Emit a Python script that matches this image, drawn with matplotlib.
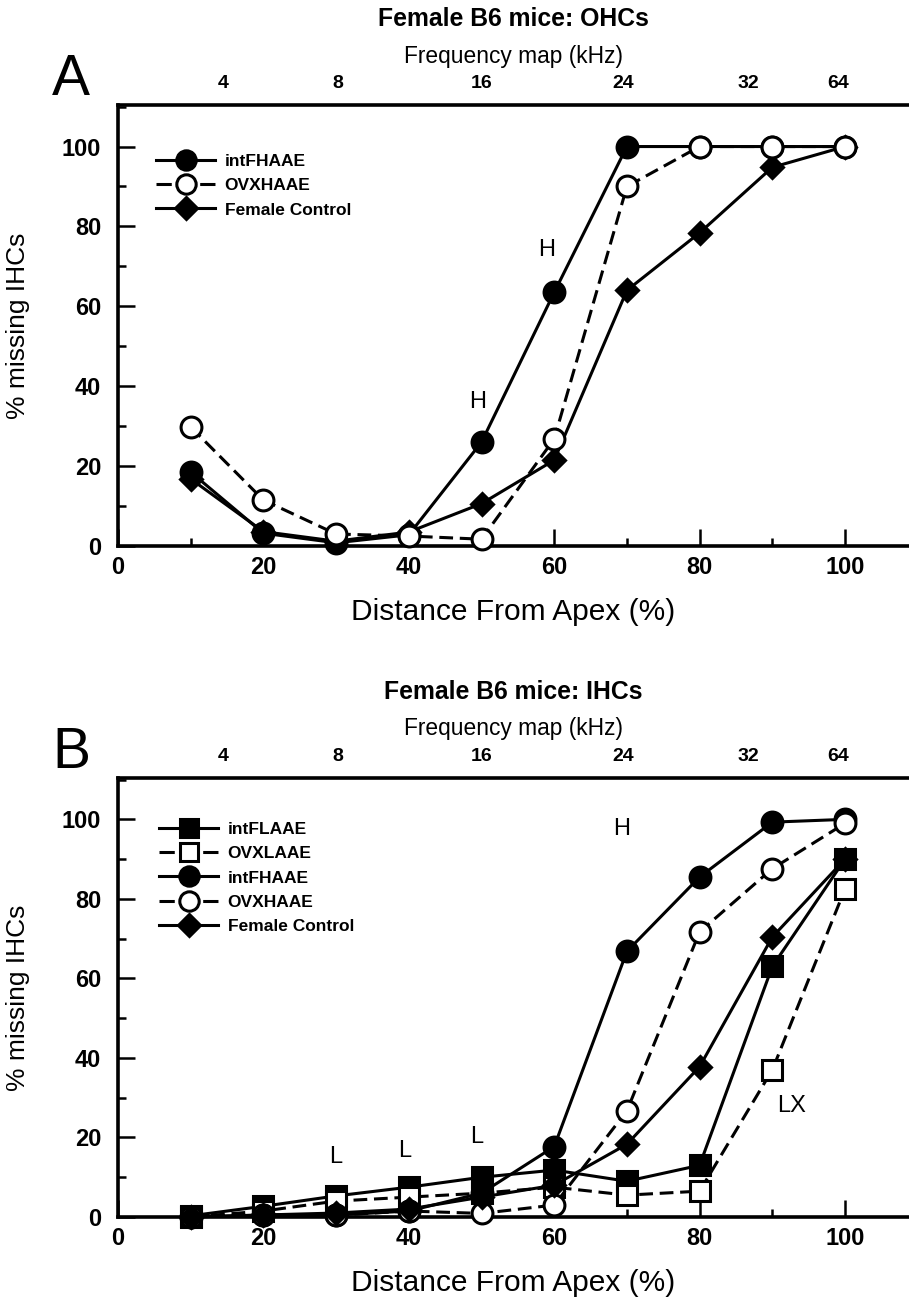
import matplotlib
matplotlib.use("Agg")
import matplotlib.pyplot as plt
from matplotlib.ticker import MultipleLocator
from matplotlib.lines import Line2D

plt.rcParams['font.family'] = ['Liberation Sans', 'DejaVu Sans']

# ---------------- data ----------------
distance = [10, 20, 30, 40, 50, 60, 70, 80, 90, 100]

# Panel A (OHCs)
A_intFHAAE = [18.5, 3.2, 0.8, 2.8, 26.0, 63.5, 100, 100, 100, 100]
A_OVXHAAE = [29.8, 11.5, 3.0, 2.5, 1.7, 26.8, 90.0, 100, 100, 100]
A_control = [16.8, 3.6, 1.2, 3.5, 10.6, 21.5, 64.0, 78.4, 94.8, 100]

# Panel B (IHCs)
B_intFLAAE = [0.3, 2.7, 5.3, 7.5, 10.0, 11.8, 9.0, 13.0, 63.0, 90.0]
B_OVXLAAE = [0.0, 1.5, 4.0, 5.0, 6.0, 7.5, 5.5, 6.5, 37.0, 82.5]
B_intFHAAE = [0.0, 0.5, 0.5, 1.5, 6.0, 17.7, 66.8, 85.5, 99.3, 100]
B_OVXHAAE = [0.0, 0.5, 0.5, 1.5, 0.9, 3.0, 26.7, 71.7, 87.6, 99.0]
B_control = [0.0, 0.5, 1.0, 2.0, 5.0, 8.0, 18.3, 37.8, 70.4, 90.0]

freq_labels = ['4', '8', '16', '24', '32', '64']
freq_pos = [14.4, 30.3, 50.0, 69.5, 86.7, 99.0]

x_ticklabels = [0, 20, 40, 60, 80, 100]
y_ticklabels = [0, 20, 40, 60, 80, 100]

A_notes = [('H', 49.5, 36.0), ('H', 59.0, 74.0)]
B_notes = [('H', 69.3, 97.5), ('L', 30.0, 15.0), ('L', 39.5, 16.5),
           ('L', 49.4, 20.0), ('LX', 92.6, 28.0)]

# ---------------- figure ----------------
W, H = 909, 1298
fig = plt.figure(figsize=(W / 100, H / 100), dpi=100)


def fx(px):
    return px / W


def fy(py):
    return 1 - py / H


LW = 2.2
MS_C = 15.0
MS_S = 14.5
MS_D = 11.5
dash = (0, (4.5, 2.2))
legend_dash = (0, (5.0, 9.3))

styles = {
    'intFLAAE': dict(marker='s', ms=MS_S, mfc='black', mec='black', ls='-'),
    'OVXLAAE': dict(marker='s', ms=MS_S, mfc='white', mec='black', ls=dash),
    'intFHAAE': dict(marker='o', ms=MS_C, mfc='black', mec='black', ls='-'),
    'OVXHAAE': dict(marker='o', ms=MS_C, mfc='white', mec='black', ls=dash),
    'Female Control': dict(marker='D', ms=MS_D, mfc='black', mec='black', ls='-'),
}


def setup_axes(ax, top_px, bottom_px, title, letter, notes):
    ax.set_xlim(0, 108.8)
    ax.set_ylim(0, 110.4)
    for s in ['left', 'bottom', 'top']:
        ax.spines[s].set_linewidth(2.6)
    ax.spines['right'].set_visible(False)
    ax.xaxis.set_minor_locator(MultipleLocator(10))
    ax.yaxis.set_minor_locator(MultipleLocator(10))
    ax.set_xticks(x_ticklabels)
    ax.set_yticks(y_ticklabels)
    ax.tick_params(which='major', direction='in', length=12, width=1.8,
                   labelsize=17, top=False, right=False)
    ax.tick_params(which='minor', direction='in', length=6, width=1.8,
                   top=False, right=False)
    ax.tick_params(axis='x', which='major', pad=7)
    ax.tick_params(axis='y', which='major', pad=12)
    for lab in ax.get_xticklabels() + ax.get_yticklabels():
        lab.set_fontweight('bold')
    ax.set_xlabel('Distance From Apex (%)', fontsize=21.5, labelpad=14)
    ax.set_ylabel('% missing IHCs', fontsize=19)
    ax.yaxis.set_label_coords(fx(30 - 118) / (791 / W), 0.5)

    sec = ax.secondary_xaxis('top')
    sec.set_xticks(freq_pos, labels=freq_labels)
    sec.tick_params(length=0, labelsize=14, pad=9)
    for lab in sec.get_xticklabels():
        lab.set_fontweight('bold')
    sec.spines['top'].set_visible(False)

    fig.text(fx(513), fy(top_px - 86), title, ha='center', va='center',
             fontsize=17.8, fontweight='bold')
    fig.text(fx(513), fy(top_px - 49), 'Frequency map (kHz)', ha='center',
             va='center', fontsize=16.4)
    fig.text(fx(71), fy(top_px - 25), letter, ha='center', va='center',
             fontsize=41)
    for t, x, y in notes:
        ax.text(x, y, t, ha='center', va='center', fontsize=17)


def plot_series(ax, name, vals, z):
    st = styles[name]
    ax.plot(distance, vals, linestyle=st['ls'], color='black', lw=LW,
            marker=st['marker'], ms=st['ms'], mfc=st['mfc'], mec=st['mec'],
            mew=2.2, label=name, clip_on=False, zorder=z)


def legend_handle(name):
    st = styles[name]
    ls = legend_dash if st['ls'] != '-' else '-'
    return Line2D([], [], linestyle=ls, color='black', lw=LW,
                  marker=st['marker'], ms=st['ms'] * 0.93, mfc=st['mfc'],
                  mec=st['mec'], mew=2.2)


leg_kw = dict(frameon=False, handlelength=3.4, handletextpad=0.55,
              labelspacing=0.52, borderpad=0, borderaxespad=0,
              numpoints=1, prop={'weight': 'bold', 'size': 12.5})

# Panel A
axA = fig.add_axes([fx(118), fy(546), 791 / W, (546 - 105) / H])
setup_axes(axA, 105, 546, 'Female B6 mice: OHCs', 'A', A_notes)
plot_series(axA, 'Female Control', A_control, 3)
plot_series(axA, 'intFHAAE', A_intFHAAE, 4)
plot_series(axA, 'OVXHAAE', A_OVXHAAE, 5)
order_A = ['intFHAAE', 'OVXHAAE', 'Female Control']
axA.legend([legend_handle(n) for n in order_A], order_A, loc='upper left',
           bbox_to_anchor=(fx(156), fy(154)), bbox_transform=fig.transFigure,
           **leg_kw)

# Panel B
axB = fig.add_axes([fx(118), fy(1217), 791 / W, (1217 - 778) / H])
setup_axes(axB, 778, 1217, 'Female B6 mice: IHCs', 'B', B_notes)
plot_series(axB, 'intFLAAE', B_intFLAAE, 3)
plot_series(axB, 'OVXLAAE', B_OVXLAAE, 4)
plot_series(axB, 'intFHAAE', B_intFHAAE, 5)
plot_series(axB, 'OVXHAAE', B_OVXHAAE, 6)
plot_series(axB, 'Female Control', B_control, 7)
order_B = ['intFLAAE', 'OVXLAAE', 'intFHAAE', 'OVXHAAE', 'Female Control']
axB.legend([legend_handle(n) for n in order_B], order_B, loc='upper left',
           bbox_to_anchor=(fx(159), fy(822)), bbox_transform=fig.transFigure,
           **leg_kw)

fig.savefig('out.png', dpi=100)
